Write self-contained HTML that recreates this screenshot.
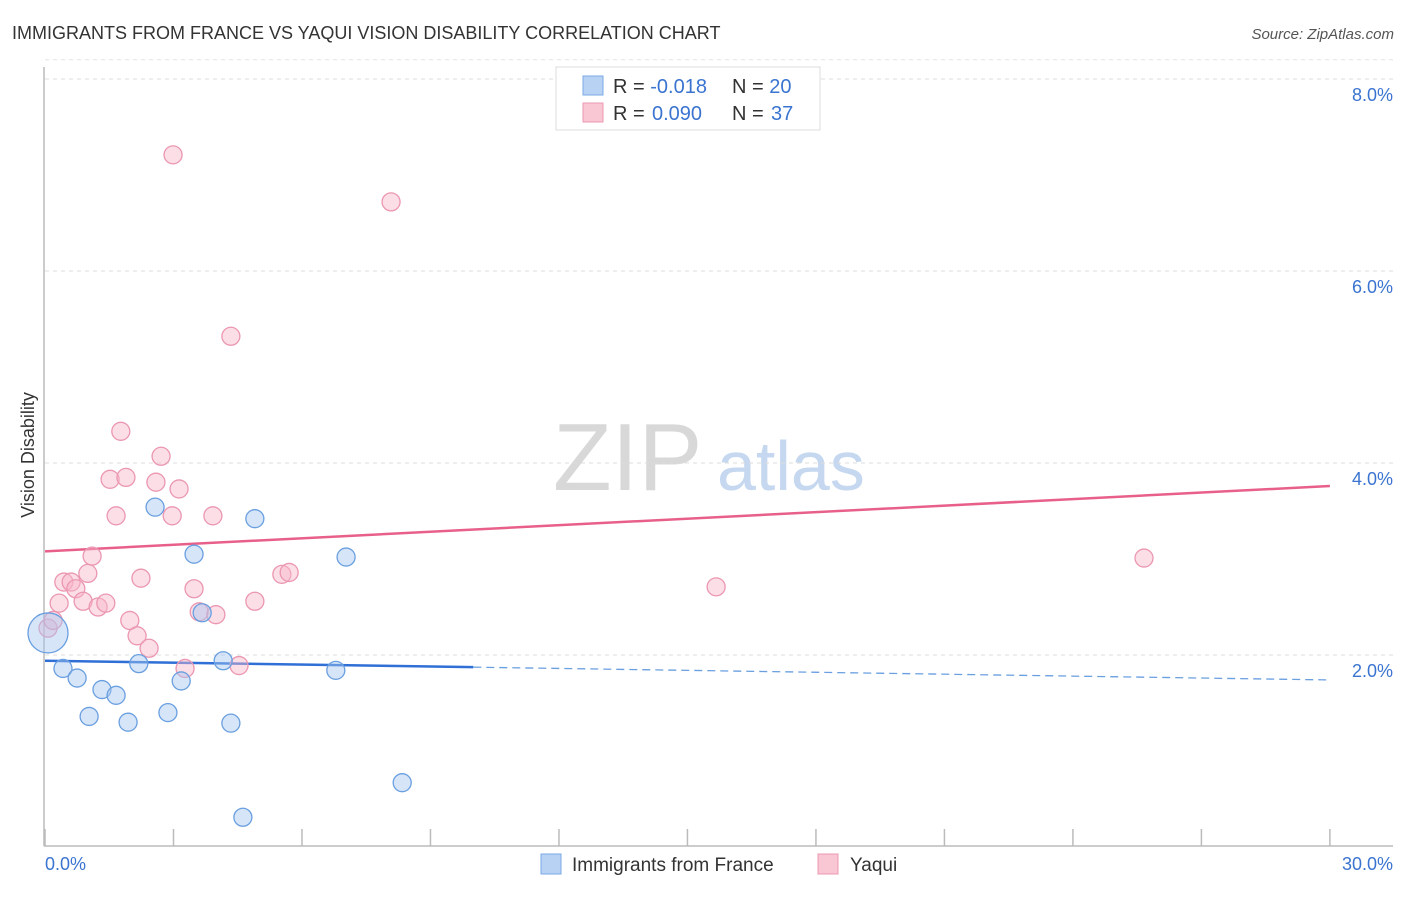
<!DOCTYPE html>
<html><head><meta charset="utf-8"><style>
body{margin:0;background:#fff;font-family:"Liberation Sans",sans-serif;}
svg text{font-family:"Liberation Sans",sans-serif;}
</style></head><body>
<svg id="chart" width="1406" height="892" xmlns="http://www.w3.org/2000/svg">
<text x="12" y="39" font-size="18" fill="#333">IMMIGRANTS FROM FRANCE VS YAQUI VISION DISABILITY CORRELATION CHART</text>
<text x="1394" y="39" font-size="15" fill="#555" text-anchor="end" font-style="italic">Source: ZipAtlas.com</text>
<text x="553" y="490" font-size="96" fill="#d8d8d8" font-family="Liberation Serif, serif">ZIP</text>
<text x="717" y="490" font-size="70" fill="#c5d8f0">atlas</text>
<text transform="translate(34,455) rotate(-90)" font-size="18" fill="#333" text-anchor="middle">Vision Disability</text>
<g id="grid"></g><g id="axes"></g><g id="lines"></g><g id="pts"></g>
<g>
<rect x="556" y="67" width="264" height="63" fill="#fff" stroke="#ddd"/>
<rect x="583" y="76" width="20" height="19" fill="#b8d2f4" stroke="#7aa8e6"/>
<rect x="583" y="103" width="20" height="19" fill="#f9c6d4" stroke="#ec98b2"/>
<text x="613" y="93" font-size="20" fill="#333">R = <tspan fill="#3a74d0">-0.018</tspan><tspan x="732">N = </tspan><tspan fill="#3a74d0">20</tspan></text>
<text x="613" y="120" font-size="20" fill="#333">R = <tspan fill="#3a74d0" x="652">0.090</tspan><tspan x="732">N = </tspan><tspan fill="#3a74d0" x="771">37</tspan></text>
</g>
<g>
<rect x="541" y="854" width="20" height="20" fill="#b8d2f4" stroke="#7aa8e6"/>
<text x="572" y="871" font-size="19" fill="#333">Immigrants from France</text>
<rect x="818" y="854" width="20" height="20" fill="#f9c6d4" stroke="#ec98b2"/>
<text x="850" y="871" font-size="19" fill="#333">Yaqui</text>
</g>
</svg>
<script>
const blueX=[0.07,0.42,0.75,1.03,1.33,1.66,1.94,2.19,2.57,2.87,3.18,3.48,3.67,4.16,4.34,4.62,4.90,6.79,7.03,8.34];
const blueY=[2.23,1.86,1.76,1.36,1.64,1.58,1.30,1.91,3.54,1.40,1.73,3.05,2.44,1.94,1.29,0.31,3.42,1.84,3.02,0.67];
const pinkX=[0.07,0.19,0.33,0.44,0.61,0.72,0.89,1.00,1.10,1.24,1.42,1.52,1.66,1.77,1.89,1.98,2.15,2.24,2.43,2.59,2.71,2.99,2.97,3.13,3.27,3.48,3.60,3.92,3.99,4.34,4.53,4.90,5.53,5.70,8.08,15.67,25.66];
const pinkY=[2.28,2.36,2.54,2.76,2.76,2.69,2.56,2.85,3.03,2.50,2.54,3.83,3.45,4.33,3.85,2.36,2.20,2.80,2.07,3.80,4.07,7.21,3.45,3.73,1.86,2.69,2.45,3.45,2.42,5.32,1.89,2.56,2.84,2.86,6.72,2.71,3.01];
const blueTrend=[1.94,1.74];
const pinkTrend=[3.08,3.76];
const yTicks=[2,4,6,8];
const yTickLabels=["2.0%","4.0%","6.0%","8.0%"];
const xTicks=[0,3,6,9,12,15,18,21,24,27,30];
const NS="http://www.w3.org/2000/svg";
const sx=v=>45+v*42.83, sy=v=>847-v*96;
function mk(tag,attrs,parent){const e=document.createElementNS(NS,tag);for(const k in attrs)e.setAttribute(k,attrs[k]);document.getElementById(parent).appendChild(e);return e;}
yTicks.forEach((t,i)=>{
 const l=mk('line',{x1:45,x2:1393,y1:sy(t),y2:sy(t),stroke:'#ddd','stroke-dasharray':'4,4'},'grid');
 
 
 const tx=mk('text',{x:1393,y:sy(t)+22,'font-size':18,fill:'#3a74d0','text-anchor':'end'},'grid');
 tx.textContent=yTickLabels[i];
 
 
});
const l0=mk('line',{x1:45,x2:1393,y1:sy(8.2),y2:sy(8.2),stroke:'#e4e4e4','stroke-dasharray':'4,4'},'grid');


const ya=mk('line',{x1:44,x2:44,y1:67,y2:846,stroke:'#bbb','stroke-width':1.5},'axes');


const xa=mk('line',{x1:44,x2:1393,y1:846,y2:846,stroke:'#bbb','stroke-width':1.5},'axes');


xTicks.forEach(t=>{
 const tk=mk('line',{x1:sx(t),x2:sx(t),y1:829,y2:846,stroke:'#bbb','stroke-width':1.5},'axes');
 
 
});
const xl0=mk('text',{x:45,y:870,'font-size':18,fill:'#3a74d0'},'axes');xl0.textContent='0.0%';


const xl1=mk('text',{x:1393,y:870,'font-size':18,fill:'#3a74d0','text-anchor':'end'},'axes');xl1.textContent='30.0%';


// trends
const pt=mk('line',{x1:sx(0),y1:sy(pinkTrend[0]),x2:sx(30),y2:sy(pinkTrend[1]),stroke:'#e8608a','stroke-width':2.5},'lines');


const bAt=x=>blueTrend[0]+(blueTrend[1]-blueTrend[0])*x/30;
const bt=mk('line',{x1:sx(0),y1:sy(bAt(0)),x2:sx(10),y2:sy(bAt(10)),stroke:'#2f6fd6','stroke-width':2.5},'lines');


const bd=mk('line',{x1:sx(10),y1:sy(bAt(10)),x2:sx(30),y2:sy(bAt(30)),stroke:'#6a9fe0','stroke-width':1.3,'stroke-dasharray':'8,5'},'lines');


pinkX.forEach((x,i)=>{
 const c=mk('circle',{cx:sx(x),cy:sy(pinkY[i]),r:9,fill:'rgba(248,182,202,0.45)',stroke:'#eb97b1','stroke-width':1.3},'pts');
 
 
});
blueX.forEach((x,i)=>{
 const c=mk('circle',{cx:sx(x),cy:sy(blueY[i]),r:i===0?20:9,fill:'rgba(164,198,240,0.45)',stroke:'#6a9fe0','stroke-width':1.3},'pts');
 
 
});
</script>
</body></html>
